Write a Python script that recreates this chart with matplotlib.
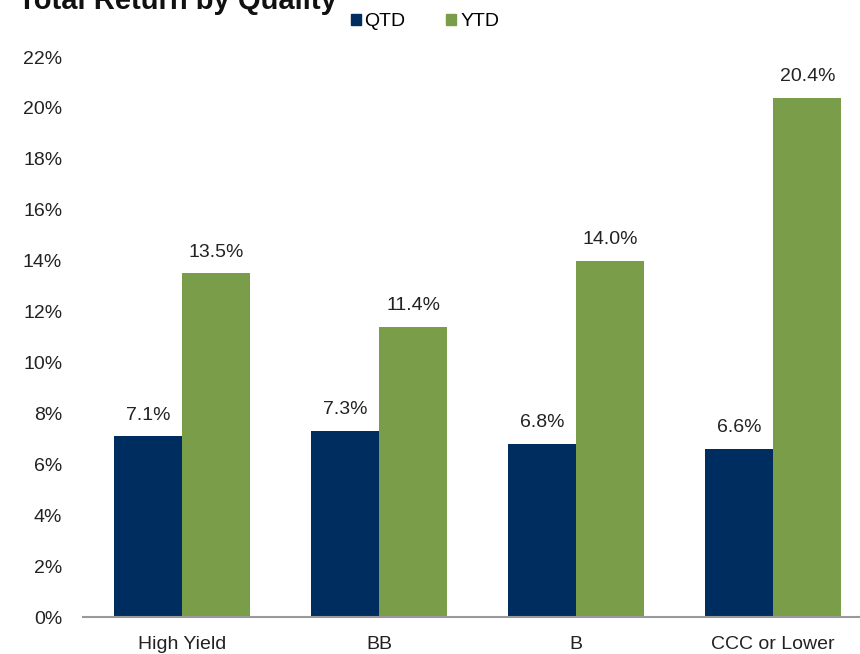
import numpy as np
import matplotlib.pyplot as plt
from matplotlib.patches import Patch

plt.rcParams['font.family'] = ['Liberation Sans', 'DejaVu Sans']

categories = ['High Yield', 'BB', 'B', 'CCC or Lower']
qtd = [7.1, 7.3, 6.8, 6.6]
ytd = [13.5, 11.4, 14.0, 20.4]
series = ['QTD', 'YTD']
navy = '#002D5F'
green = '#7A9D4A'

fig = plt.figure(figsize=(8.6, 6.54), dpi=100)
ax = fig.add_axes([83 / 860, 37 / 654, 777 / 860, 560 / 654])

x = np.arange(len(categories))
w = 0.345
b1 = ax.bar(x - w / 2, qtd, w, color=navy)
b2 = ax.bar(x + w / 2, ytd, w, color=green)

for bars, vals in ((b1, qtd), (b2, ytd)):
    for bar, v in zip(bars, vals):
        ax.text(bar.get_x() + bar.get_width() / 2, v + 0.5, f'{v:.1f}%',
                ha='center', va='bottom', fontsize=14, color='#222222')

ax.set_xlim(-0.503, 3.44)
ax.set_ylim(0, 22)
ax.set_yticks(np.arange(0, 23, 2))
ax.set_yticklabels([f'{t}%' for t in range(0, 23, 2)])
ax.set_xticks(x)
ax.set_xticklabels(categories)
ax.tick_params(axis='both', length=0, labelsize=14, colors='#222222')
ax.tick_params(axis='y', pad=15)
ax.tick_params(axis='x', pad=14)
for s in ('top', 'right', 'left'):
    ax.spines[s].set_visible(False)
ax.spines['bottom'].set_color('#999999')
ax.spines['bottom'].set_linewidth(1.5)

# title is partly cut off at the top, as in the source image
fig.text(18 / 860, 1 - 9 / 654, 'Total Return by Quality', fontsize=21, fontweight='bold',
         ha='left', va='baseline', color='#111111')

handles = [Patch(color=navy), Patch(color=green)]
fig.legend(handles, series, loc='center', bbox_to_anchor=(425 / 860, 1 - 22 / 654),
           ncol=2, frameon=False, fontsize=14, handlelength=0.5, handleheight=0.5,
           handletextpad=0.2, columnspacing=2.1)

fig.savefig('out.png', dpi=100)
